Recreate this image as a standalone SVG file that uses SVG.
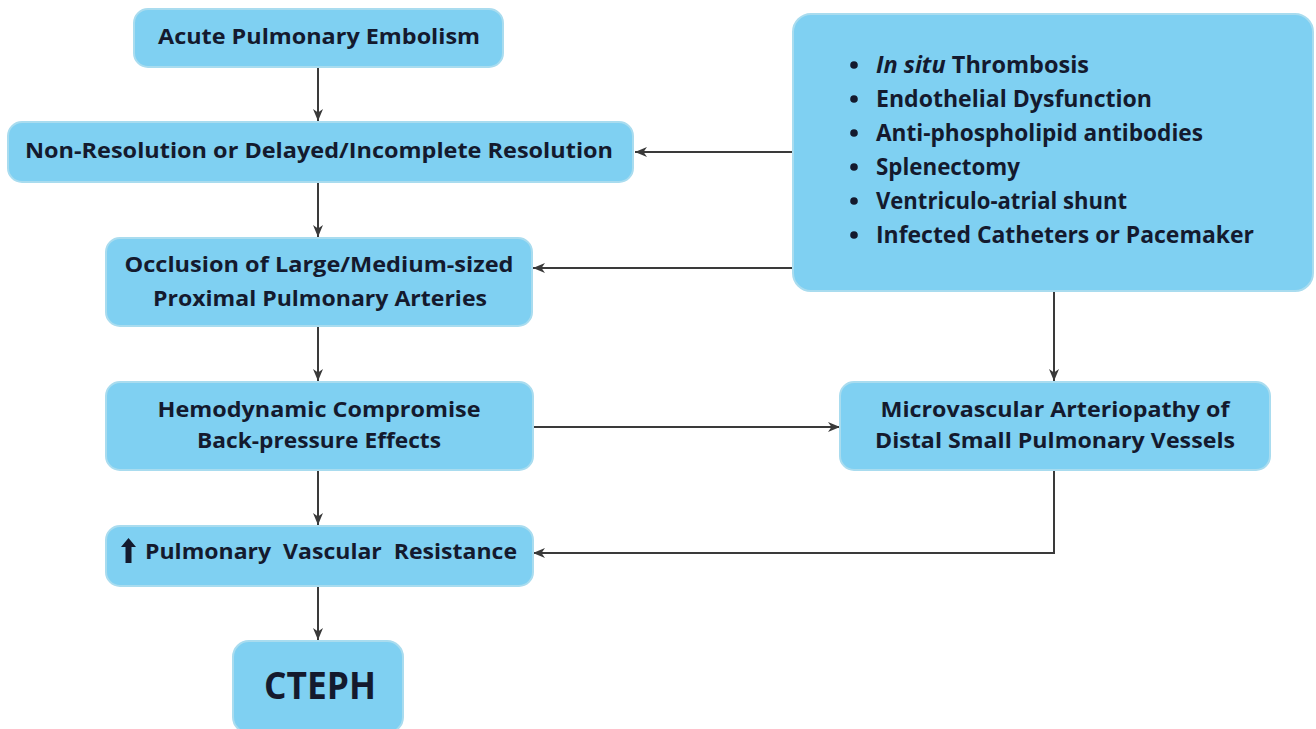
<svg xmlns="http://www.w3.org/2000/svg" width="1316" height="729" viewBox="0 0 1316 729">
<defs>
<marker id="ah" viewBox="0 0 12 10" refX="12" refY="5" markerWidth="12" markerHeight="10" markerUnits="userSpaceOnUse" orient="auto">
<path d="M0,0 L12,5 L0,10 L3.5,5 Z" fill="#3a3a3a"/>
</marker>
<style>
.box{fill:#7fd0f2;stroke:#a9dcef;stroke-width:2}
.t{font-family:"Open Sans","Liberation Sans",sans-serif;font-weight:bold;font-size:21px;fill:#141a2e;text-anchor:middle}
.l{font-family:"Open Sans","Liberation Sans",sans-serif;font-weight:bold;font-size:21px;fill:#141a2e}
.b{font-family:"Open Sans","Liberation Sans",sans-serif;font-weight:bold;font-size:24px;fill:#141a2e}
.c{stroke:#3a3a3a;stroke-width:2;fill:none}
</style>
</defs>
<rect width="1316" height="729" fill="#ffffff"/>
<g id="connectors">
<line class="c" x1="318" y1="67" x2="318" y2="121" marker-end="url(#ah)"/>
<line class="c" x1="318" y1="182" x2="318" y2="237" marker-end="url(#ah)"/>
<line class="c" x1="318" y1="326" x2="318" y2="381" marker-end="url(#ah)"/>
<line class="c" x1="318" y1="470" x2="318" y2="525" marker-end="url(#ah)"/>
<line class="c" x1="318" y1="586" x2="318" y2="640" marker-end="url(#ah)"/>
<line class="c" x1="793" y1="152" x2="635" y2="152" marker-end="url(#ah)"/>
<line class="c" x1="793" y1="268" x2="533" y2="268" marker-end="url(#ah)"/>
<line class="c" x1="1054" y1="292" x2="1054" y2="381" marker-end="url(#ah)"/>
<line class="c" x1="534" y1="427" x2="840" y2="427" marker-end="url(#ah)"/>
<polyline class="c" points="1054,470 1054,553 533,553" marker-end="url(#ah)"/>
</g>
<g id="n1">
<rect class="box" x="134" y="9" width="369" height="58" rx="14"/>
<text class="t" x="319" y="44" textLength="322" lengthAdjust="spacingAndGlyphs">Acute Pulmonary Embolism</text>
</g>
<g id="n2">
<rect class="box" x="8" y="122" width="625" height="60" rx="14"/>
<text class="t" x="319" y="158" textLength="588" lengthAdjust="spacingAndGlyphs">Non-Resolution or Delayed/Incomplete Resolution</text>
</g>
<g id="n3">
<rect class="box" x="106" y="238" width="426" height="88" rx="14"/>
<text class="t" x="319" y="272" textLength="389" lengthAdjust="spacingAndGlyphs">Occlusion of Large/Medium-sized</text>
<text class="t" x="320" y="306" textLength="334" lengthAdjust="spacingAndGlyphs">Proximal Pulmonary Arteries</text>
</g>
<g id="n4">
<rect class="box" x="106" y="382" width="427" height="88" rx="14"/>
<text class="t" x="319" y="417" textLength="323" lengthAdjust="spacingAndGlyphs">Hemodynamic Compromise</text>
<text class="t" x="319" y="448" textLength="244" lengthAdjust="spacingAndGlyphs">Back-pressure Effects</text>
</g>
<g id="n5">
<rect class="box" x="106" y="526" width="427" height="60" rx="14"/>
<path d="M128.5,538 L136,547 L131.5,547 L131.5,563 L125.5,563 L125.5,547 L121,547 Z" fill="#141a2e"/>
<text class="l" x="145" y="559" textLength="372" lengthAdjust="spacingAndGlyphs" xml:space="preserve">Pulmonary  Vascular  Resistance</text>
</g>
<g id="n6">
<rect class="box" x="233" y="641" width="170" height="92" rx="16"/>
<text class="t" x="320" y="699" style="font-size:38px" textLength="112" lengthAdjust="spacingAndGlyphs">CTEPH</text>
</g>
<g id="n7">
<rect class="box" x="793" y="14" width="520" height="277" rx="18"/>
<g fill="#141a2e">
<circle cx="854" cy="65" r="3.8"/>
<circle cx="854" cy="99" r="3.8"/>
<circle cx="854" cy="133" r="3.8"/>
<circle cx="854" cy="167" r="3.8"/>
<circle cx="854" cy="201" r="3.8"/>
<circle cx="854" cy="235" r="3.8"/>
</g>
<text class="b" x="876" y="73" textLength="213" lengthAdjust="spacingAndGlyphs"><tspan font-style="italic">In situ</tspan> Thrombosis</text>
<text class="b" x="876" y="107" textLength="276" lengthAdjust="spacingAndGlyphs">Endothelial Dysfunction</text>
<text class="b" x="876" y="141" textLength="327" lengthAdjust="spacingAndGlyphs">Anti-phospholipid antibodies</text>
<text class="b" x="876" y="175" textLength="144" lengthAdjust="spacingAndGlyphs">Splenectomy</text>
<text class="b" x="876" y="209" textLength="251" lengthAdjust="spacingAndGlyphs">Ventriculo-atrial shunt</text>
<text class="b" x="876" y="243" textLength="378" lengthAdjust="spacingAndGlyphs">Infected Catheters or Pacemaker</text>
</g>
<g id="n8">
<rect class="box" x="840" y="382" width="430" height="88" rx="14"/>
<text class="t" x="1055" y="417" textLength="349" lengthAdjust="spacingAndGlyphs">Microvascular Arteriopathy of</text>
<text class="t" x="1055" y="448" textLength="360" lengthAdjust="spacingAndGlyphs">Distal Small Pulmonary Vessels</text>
</g>
</svg>
